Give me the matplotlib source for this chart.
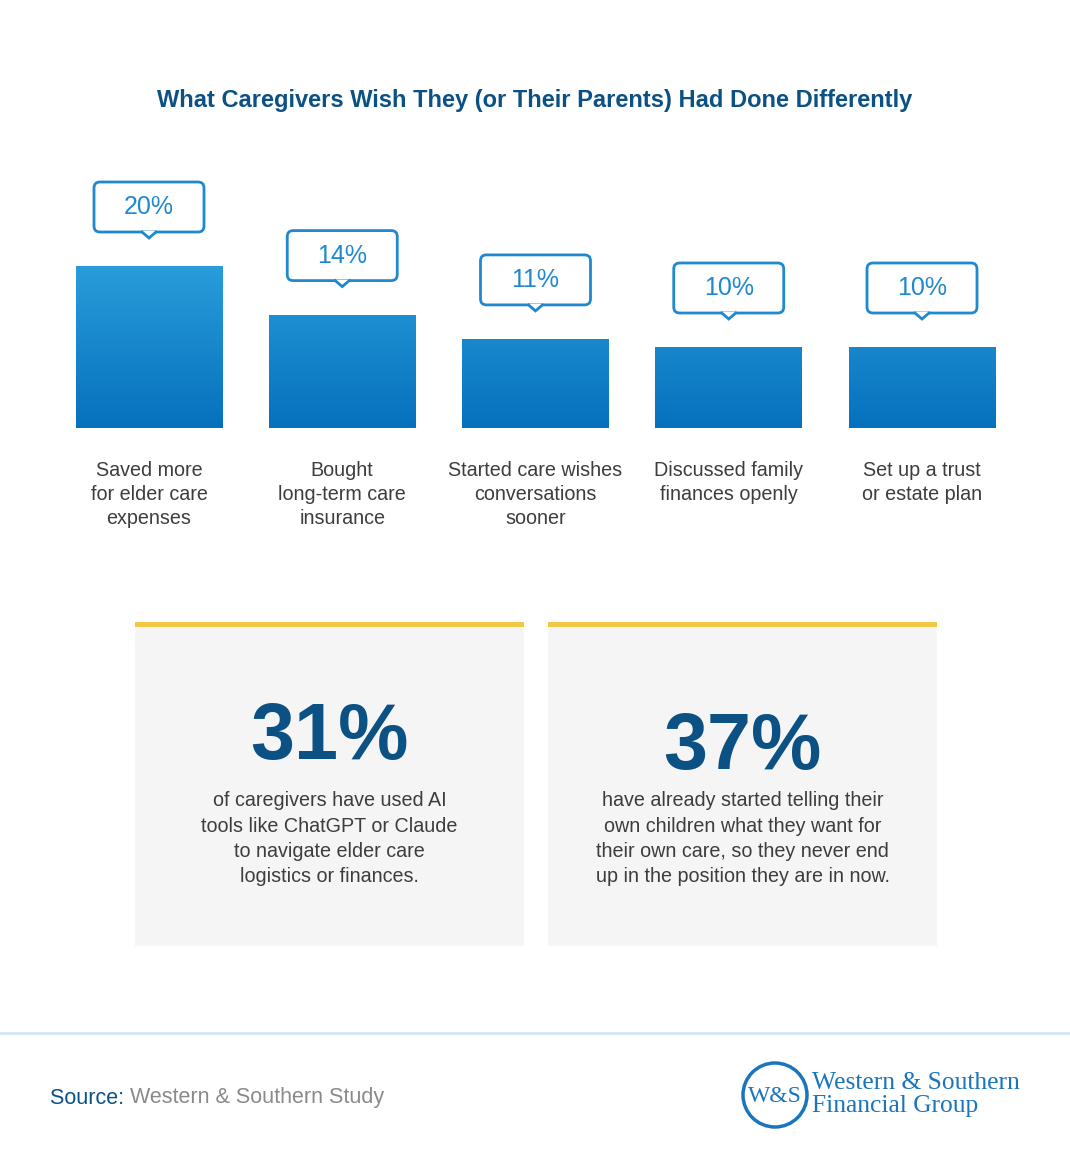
import numpy as np
import matplotlib
matplotlib.use("Agg")
import matplotlib.pyplot as plt
from matplotlib.patches import FancyBboxPatch, Rectangle, Polygon, Circle

# data
categories = [
    "Saved more\nfor elder care\nexpenses",
    "Bought\nlong-term care\ninsurance",
    "Started care wishes\nconversations\nsooner",
    "Discussed family\nfinances openly",
    "Set up a trust\nor estate plan",
]
values = [20, 14, 11, 10, 10]
value_labels = ["20%", "14%", "11%", "10%", "10%"]
stat_numbers = ["31%", "37%"]
stat_texts = [
    "of caregivers have used AI\ntools like ChatGPT or Claude\nto navigate elder care\nlogistics or finances.",
    "have already started telling their\nown children what they want for\ntheir own care, so they never end\nup in the position they are in now.",
]
title = "What Caregivers Wish They (or Their Parents) Had Done Differently"

BLUE = "#1e88d0"
NAVY = "#0b5184"
TEXT = "#3d3d3d"
SERIF = ["Liberation Serif", "DejaVu Serif"]

plt.rcParams['font.family'] = ['Liberation Sans', 'DejaVu Sans']

W, H = 1070, 1164
fig = plt.figure(figsize=(W / 100, H / 100), dpi=100)
fig.patch.set_facecolor("white")

# overlay axes in pixel coordinates
ov = fig.add_axes([0, 0, 1, 1])
ov.set_xlim(0, W)
ov.set_ylim(H, 0)
ov.axis("off")

# bar axes: baseline at 428px, ~8.1px per percent
spacing = 193.25
left_px = 149 - spacing / 2
base_px = 428
ppp = 8.1
ymax = 25
ax = fig.add_axes([left_px / W, (H - base_px) / H, 5 * spacing / W, ymax * ppp / H])
ax.set_xlim(-0.5, 4.5)
ax.set_ylim(0, ymax)
ax.axis("off")
ax.patch.set_alpha(0)

x = np.arange(len(values))
bw = 147 / spacing
bars = ax.bar(x, values, width=bw, color="none", edgecolor="none")
grad = np.linspace(0, 1, 256).reshape(-1, 1)
cmap = matplotlib.colors.LinearSegmentedColormap.from_list("g", ["#0670bd", "#299dda"])
for b in bars:
    im = ax.imshow(grad, extent=(b.get_x(), b.get_x() + b.get_width(), 0, 20),
                   origin="lower", cmap=cmap, aspect="auto", zorder=2)
    im.set_clip_path(b)

# callouts and labels
to_px = ax.transData + ov.transData.inverted()
for xi, v, lab, cat in zip(x, values, value_labels, categories):
    cx, top = to_px.transform((xi, v))
    bx0 = cx - 55
    by1 = top - 34
    by0 = by1 - 50
    box = FancyBboxPatch((bx0, by0), 110, 50, boxstyle="round,pad=0,rounding_size=6",
                         fc="white", ec=BLUE, lw=2.0, zorder=3)
    ov.add_patch(box)
    ov.add_patch(Polygon([(cx - 7, by1 - 1), (cx + 7, by1 - 1), (cx, by1 + 6)],
                         closed=True, fc="white", ec="none", zorder=4))
    ov.plot([cx - 7, cx, cx + 7], [by1, by1 + 6, by1], color=BLUE, lw=2.0,
            solid_joinstyle="miter", zorder=5)
    ov.text(cx, by0 + 25, lab, ha="center", va="center", fontsize=18, color=BLUE, zorder=6)
    for k, line in enumerate(cat.split("\n")):
        ov.text(cx, 471 + 24 * k, line, ha="center", va="center", fontsize=14.2, color=TEXT)

# title
ov.text(535, 100, title, ha="center", va="center", fontsize=17, fontweight="bold", color=NAVY)

# stat boxes
boxes = [(135, 524), (548, 937)]
num_y = [739, 748]
for (x0, x1), num, txt, ny in zip(boxes, stat_numbers, stat_texts, num_y):
    ov.add_patch(Rectangle((x0, 627), x1 - x0, 946 - 627, fc="#f5f5f5", ec="none"))
    ov.add_patch(Rectangle((x0, 622), x1 - x0, 5, fc="#f2c744", ec="none"))
    mid = (x0 + x1) / 2
    ov.text(mid, ny, num, ha="center", va="center", fontsize=57, fontweight="bold", color=NAVY)
    for k, line in enumerate(txt.split("\n")):
        ov.text(mid, 801 + 25.3 * k, line, ha="center", va="center", fontsize=14.2, color=TEXT)

# separator
ov.plot([0, W], [1033, 1033], color="#d8e6f2", lw=2)

# source
t = ov.text(50, 1098, "Source: ", ha="left", va="center", fontsize=15.5, color=NAVY)
ov.annotate("Western & Southern Study", xycoords=t, xy=(1, 0.5), va="center", ha="left",
            fontsize=15.5, color="#8a8a8a")

# logo
LOGO = "#1b75bc"
ov.add_patch(Circle((775, 1095), 32, fc="none", ec=LOGO, lw=2.5))
ov.text(775, 1096, "W&S", ha="center", va="center", fontsize=17, color=LOGO, family=SERIF)
ov.text(812, 1083, "Western & Southern", ha="left", va="center", fontsize=18.4, color=LOGO,
        family=SERIF)
ov.text(812, 1106, "Financial Group", ha="left", va="center", fontsize=18.4, color=LOGO,
        family=SERIF)

fig.savefig("out.png", dpi=100, facecolor="white")
